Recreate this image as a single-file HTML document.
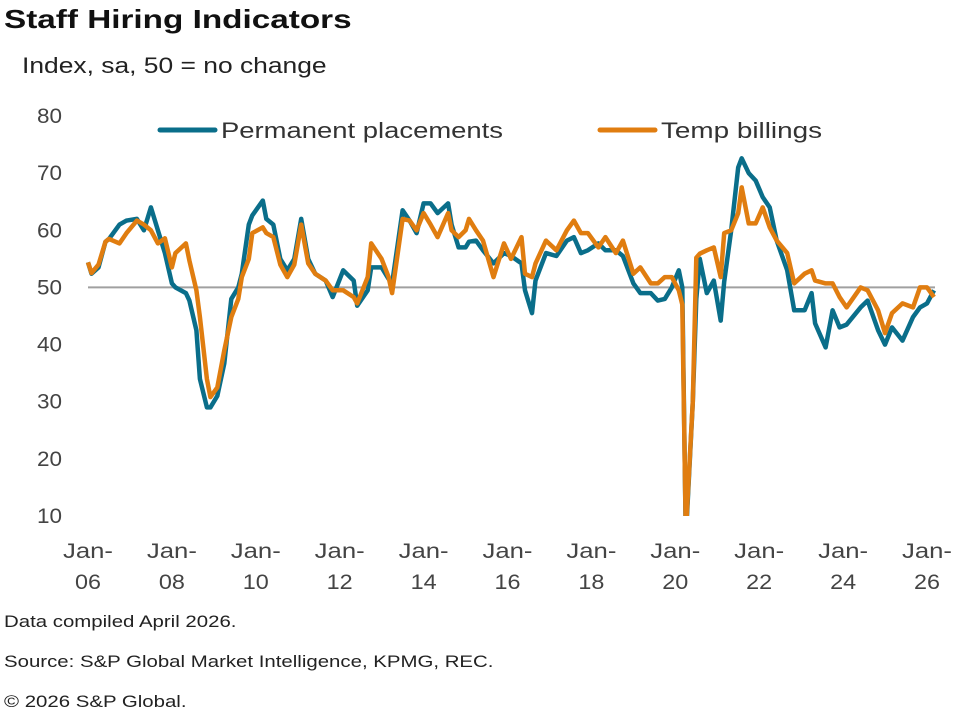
<!DOCTYPE html>
<html><head><meta charset="utf-8">
<style>
html,body{margin:0;padding:0;background:#fff;}
body{width:970px;height:718px;position:relative;overflow:hidden;font-family:"Liberation Sans",sans-serif;color:#222;}
.t{position:absolute;white-space:nowrap;transform-origin:0 0;}
</style></head>
<body>
<div class="t" style="left:4px;top:4px;font-size:26px;font-weight:bold;color:#111;transform:scaleX(1.28);">Staff Hiring Indicators</div>
<div class="t" style="left:22px;top:53px;font-size:22px;color:#222;transform:scaleX(1.2);">Index, sa, 50 = no change</div>
<svg id="chart" width="970" height="600" style="position:absolute;left:0;top:0;" xmlns="http://www.w3.org/2000/svg">
<defs><clipPath id="plotclip"><rect x="80" y="100" width="880" height="416"/></clipPath></defs>
</svg>
<div class="t" style="left:4px;top:612px;font-size:17px;transform:scaleX(1.2);">Data compiled April 2026.</div>
<div class="t" style="left:4px;top:652px;font-size:17px;transform:scaleX(1.2);">Source: S&amp;P Global Market Intelligence, KPMG, REC.</div>
<div class="t" style="left:4px;top:692px;font-size:17px;transform:scaleX(1.2);">© 2026 S&amp;P Global.</div>
<script>
// month offsets from Jan 2006
const months = [0,1,3,5,6,9,11,14,16,18,20,22,24,25,28,29,31,32,34,35,37,39,41,43,44,46,47,50,51,53,55,57,59,61,63,65,68,70,73,76,77,80,81,84,86,87,90,92,94,96,98,100,103,104,106,108,109,111,113,116,119,121,124,125,127,128,131,134,137,139,141,143,146,148,151,153,156,158,161,163,165,167,169,170,171,173,174,175,177,179,181,182,184,186,187,189,191,193,195,197,200,202,205,207,208,211,213,215,217,221,223,226,228,230,233,236,238,240,242];
const permanent = [54.4,52.4,53.5,58,58.5,61,61.7,62,60,64,60,56,50.7,50,49,47.7,42.5,34,29,29,31,36.7,48,50,52.4,61,62.6,65.2,62,61,55,53,55,62,55,52.4,51.2,48.3,53,51.2,46.8,49.5,53.5,53.5,51.5,50.7,63.5,61.7,59.5,64.7,64.7,63,64.7,61,57,57,58,58.2,56.5,54.2,56,55.5,54.2,49.5,45.5,51.2,56,55.5,58.2,58.8,56,56.5,57.7,56.5,56.5,55.5,50.7,49,49,47.7,48,50,53,50,6,30,48,55,49,51.2,44.2,51,60,71,72.6,70,68.7,65.8,64,58.2,53,46,46,49,43.7,39.5,46,43,43.5,46.5,47.7,42.5,40,43,40.7,44.8,46.5,47.2,49.5];
const temp = [54.4,52.5,54,58,58.5,57.7,59.5,61.7,61,60,57.7,58.6,53.5,56,57.7,54.7,49.5,44.8,34,30.8,32.5,39,44.8,48,51.8,55,59.5,60.5,59.5,58.8,54,51.8,54,61,54.2,52.4,51.2,49.5,49.5,48.3,47.2,51.8,57.7,55,51.8,49,62,61.7,60,63,61,58.8,63,60,58.8,60,62,60,58.2,51.8,57.7,55,58.8,52.4,51.8,54.2,58.2,56.5,60,61.7,59.5,59.5,57,58.8,56,58.2,52.4,53.5,50.7,50.7,51.8,51.8,49.5,47,7,30,55.2,55.9,56.5,57,51.8,59.5,60,63,67.5,61.2,61.2,64,60.5,58.2,56,50.7,52.4,53,51.2,50.7,50.7,48.3,46.5,50,49.5,46,42,45.5,47.2,46.5,50,50,48.3];
const yTicks = [80,70,60,50,40,30,20,10];
const xTickMonths = [0,24,48,72,96,120,144,168,192,216,240];
const xTickYears = ["06","08","10","12","14","16","18","20","22","24","26"];

const NS='http://www.w3.org/2000/svg';
const svg=document.getElementById('chart');
const X0=88, X1=927, Y80=116, Y10=516;
function xScale(m){return X0+(X1-X0)*m/240;}
function yScale(v){return Y80+(80-v)*(Y10-Y80)/70;}
function mk(tag,attrs){const e=document.createElementNS(NS,tag);for(const k in attrs)e.setAttribute(k,attrs[k]);svg.appendChild(e);return e;}

yTicks.forEach(v=>{
  const t=mk('text',{x:62,y:yScale(v)+7,'text-anchor':'end','font-size':'21','fill':'#444','font-family':'Liberation Sans, sans-serif',textLength:25,lengthAdjust:'spacingAndGlyphs'});
  t.textContent=v;
  
  
});
xTickMonths.forEach((m,i)=>{
  const a=mk('text',{x:xScale(m),y:558,'text-anchor':'middle','font-size':'21','fill':'#444','font-family':'Liberation Sans, sans-serif',textLength:50,lengthAdjust:'spacingAndGlyphs'});
  a.textContent='Jan-';
  
  
  const b=mk('text',{x:xScale(m),y:589,'text-anchor':'middle','font-size':'21','fill':'#444','font-family':'Liberation Sans, sans-serif',textLength:26,lengthAdjust:'spacingAndGlyphs'});
  b.textContent=xTickYears[i];
  
  
});
const ref=mk('line',{x1:X0,x2:935,y1:yScale(50),y2:yScale(50),stroke:'#a0a0a0','stroke-width':2});



function series(vals,color,name){
  const d=vals.map((v,i)=>(i?'L':'M')+xScale(months[i]).toFixed(1)+' '+yScale(v).toFixed(1)).join(' ');
  const p=mk('path',{d:d,fill:'none',stroke:color,'stroke-width':4.5,'stroke-linejoin':'round','clip-path':'url(#plotclip)'});
  
  
}
series(permanent,'#0a6e8a','permanent-placements-line');
series(temp,'#e07d10','temp-billings-line');

function legend(x,color,label,len,name){
  const l=mk('line',{x1:x,x2:x+55,y1:130,y2:130,stroke:color,'stroke-width':5,'stroke-linecap':'round'});
  
  
  const t=mk('text',{x:x+61,y:138,'font-size':'22','fill':'#333','font-family':'Liberation Sans, sans-serif',textLength:len,lengthAdjust:'spacingAndGlyphs'});
  t.textContent=label;
  
  
}
legend(160,'#0a6e8a','Permanent placements',282,'legend-permanent');
legend(600,'#e07d10','Temp billings',161,'legend-temp');
</script>
</body></html>
